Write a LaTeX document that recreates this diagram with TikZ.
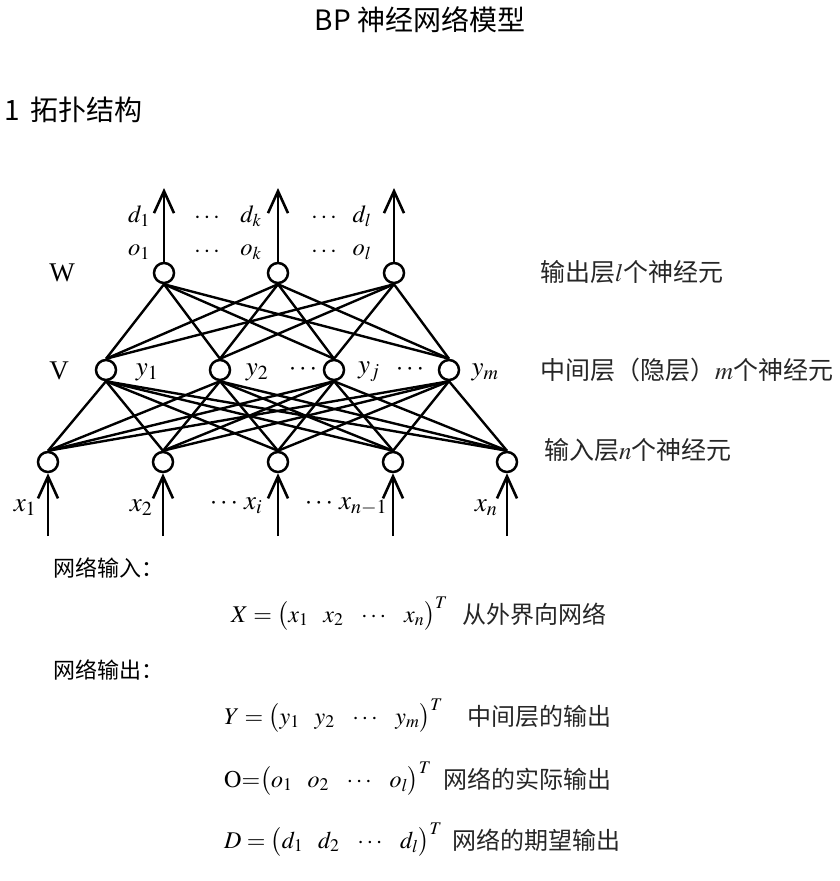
\documentclass[tikz,border=0pt]{standalone}
\usepackage{mathptmx}
\usepackage{fontspec}
\setmainfont{Liberation Serif}
\newfontfamily\cjk{Noto Sans CJK SC}
\usetikzlibrary{arrows.meta}
\newcommand{\gp}{\hspace{15pt}}
\begin{document}
\begin{tikzpicture}[x=1pt,y=-1pt,
  neuron/.style={circle,draw,line width=2.5pt,minimum size=20pt,inner sep=0pt},
  link/.style={line width=2.4pt},
  sig/.style={line width=2.6pt,-{Straight Barb[length=22pt,width=20pt,line width=2.6pt]}},
  lab/.style={inner sep=0pt,font=\fontsize{24.5}{28}\selectfont},
  big/.style={inner sep=0pt,font=\fontsize{27}{30}\selectfont},
  side/.style={inner sep=0pt,anchor=west,font=\fontsize{25}{28}\selectfont\cjk\color{black!85}},
  sidef/.style={inner sep=0pt,anchor=west,font=\fontsize{24}{28}\selectfont\cjk\color{black!85}},
  formula/.style={inner sep=0pt,anchor=west,font=\fontsize{24}{28}\selectfont},
  note/.style={inner sep=0pt,anchor=west,font=\fontsize{22}{26}\selectfont\cjk}]
\useasboundingbox (0,0) rectangle (840,881);
% headings
\node[inner sep=0pt,font=\fontsize{28}{32}\selectfont\cjk] (title) at (420,20) {BP 神经网络模型};
\node[inner sep=0pt,anchor=west,font=\fontsize{28}{32}\selectfont\cjk] (sec) at (4,110) {1\, 拓扑结构};
% neurons
\node[neuron] (o1) at (164,273) {};
\node[neuron] (o2) at (278,273) {};
\node[neuron] (o3) at (394,273) {};
\node[neuron] (h1) at (106,370) {};
\node[neuron] (h2) at (220,370) {};
\node[neuron] (h3) at (334,370) {};
\node[neuron] (h4) at (449,370) {};
\node[neuron] (i1) at (48,462) {};
\node[neuron] (i2) at (163,462) {};
\node[neuron] (i3) at (278,462) {};
\node[neuron] (i4) at (393,462) {};
\node[neuron] (i5) at (507,462) {};
% connections
\foreach \h in {1,...,4}{
  \foreach \i in {1,...,5}{\draw[link] (h\h.south) -- (i\i.north);}
  \foreach \o in {1,...,3}{\draw[link] (h\h.north) -- (o\o.south);}
}
% output arrows
\coordinate (t1) at (164,188);
\coordinate (t2) at (278,188);
\coordinate (t3) at (394,188);
\draw[sig] (o1) -- (t1);
\draw[sig] (o2) -- (t2);
\draw[sig] (o3) -- (t3);
% input arrows
\foreach \i/\x in {1/48,2/163,3/278,4/393,5/507}{
  \coordinate (b\i) at (\x,536);
  \draw[sig] (b\i) -- (i\i);
}
% labels top
\node[lab] (d1) at (139,216) {$d_1$};
\node[lab] (o1l) at (139,252) {$o_1$};
\node[lab] (dd1) at (207,218) {$\cdots$};
\node[lab] (od1) at (207,252) {$\cdots$};
\node[lab] (dk) at (251,216) {$d_k$};
\node[lab] (okl) at (251,252) {$o_k$};
\node[lab] (dd2) at (324,218) {$\cdots$};
\node[lab] (od2) at (324,252) {$\cdots$};
\node[lab] (dl) at (362,216) {$d_l$};
\node[lab] (oll) at (362,252) {$o_l$};
\node[inner sep=0pt,font=\fontsize{27}{30}\selectfont] (W) at (62,273) {W};
\node[inner sep=0pt,font=\fontsize{27}{30}\selectfont] (V) at (59,371) {V};
% hidden labels
\node[big] (y1) at (147,372) {$y_1$};
\node[big] (y2) at (257,372) {$y_2$};
\node[big] (yd1) at (303,370) {$\cdots$};
\node[big] (yj) at (369,372) {$y_j$};
\node[big] (yd2) at (410,370) {$\cdots$};
\node[big] (ym) at (485,372) {$y_m$};
% input labels
\node[big] (x1) at (25,508) {$x_1$};
\node[big] (x2) at (141,508) {$x_2$};
\node[big] (xi) at (236,506) {$\cdots\,x_i$};
\node[big] (xn1) at (346,506) {$\cdots\,x_{n-1}$};
\node[big] (xn) at (486,508) {$x_n$};
% side labels
\node[side] (sout) at (540,272) {输出层$l$个神经元};
\node[side] (shid) at (540,370) {中间层（隐层）$m$个神经元};
\node[side] (sin) at (544,450) {输入层$n$个神经元};
% formulas
\node[note] (nin) at (53,568) {网络输入：};
\node[formula] (fx) at (231,614) {$X=\bigl(x_1\gp x_2\gp\cdots\gp x_n\bigr)^T$};
\node[sidef] (fxc) at ([xshift=14pt]fx.east) {从外界向网络};
\node[note] (nout) at (53,670) {网络输出：};
\node[formula] (fy) at (224,716) {$Y=\bigl(y_1\gp y_2\gp\cdots\gp y_m\bigr)^T$};
\node[sidef] (fyc) at ([xshift=24pt]fy.east) {中间层的输出};
\node[formula] (fo) at (224,779) {$\mathrm{O}{=}\bigl(o_1\gp o_2\gp\cdots\gp o_l\bigr)^T$};
\node[sidef] (foc) at ([xshift=12pt]fo.east) {网络的实际输出};
\node[formula] (fd) at (224,840) {$D=\bigl(d_1\gp d_2\gp\cdots\gp d_l\bigr)^T$};
\node[sidef] (fdc) at ([xshift=10pt]fd.east) {网络的期望输出};
\end{tikzpicture}
\end{document}
